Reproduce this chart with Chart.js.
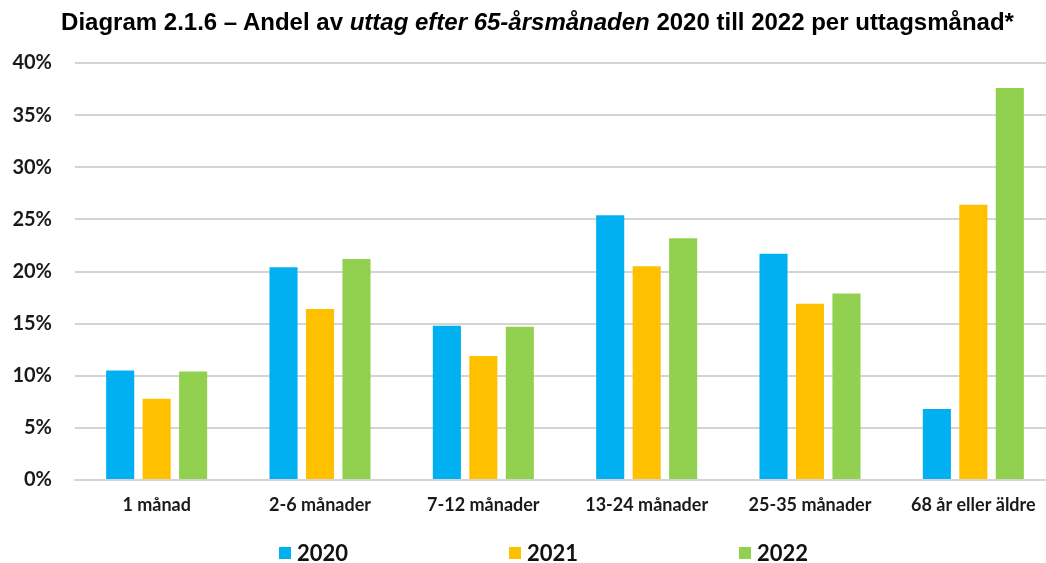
<!DOCTYPE html>
<html><head><meta charset="utf-8">
<script src="https://cdn.jsdelivr.net/npm/chart.js@4/dist/chart.umd.min.js"></script>
<style>
html,body{margin:0;padding:0;background:#fff;overflow:hidden;}
#wrap{position:relative;width:1046px;height:563px;overflow:hidden;}
#title{position:absolute;left:0;top:8px;width:1075px;line-height:28px;text-align:center;font:bold 24px "Liberation Sans",Arial,sans-serif;color:#000;white-space:nowrap;}
#legend{position:absolute;left:0;top:539px;width:1087px;height:28px;display:flex;justify-content:center;gap:161px;font:bold 22px Lato,"Open Sans",sans-serif;color:#111;line-height:28px;}
.li{display:flex;align-items:center;}
.sw{width:12px;height:12px;margin-right:6px;}
canvas{position:absolute;left:0;top:0;}
</style></head>
<body><div id="wrap">
<canvas id="c" width="1056" height="563"></canvas>
<div id="title">Diagram 2.1.6 – Andel av <i>uttag efter 65-årsmånaden</i> 2020 till 2022 per uttagsmånad*</div>
<div id="legend"></div>
</div>
<script>
const categories = ["1 månad","2-6 månader","7-12 månader","13-24 månader","25-35 månader","68 år eller äldre"];
const seriesNames = ["2020","2021","2022"];
const values2020 = [10.5, 20.4, 14.8, 25.4, 21.7, 6.8];
const values2021 = [7.8, 16.4, 11.9, 20.5, 16.9, 26.4];
const values2022 = [10.4, 21.2, 14.7, 23.2, 17.9, 37.6];
const colors = ["#00B0F0","#FFC000","#92D050"];
const yTicks = [0,5,10,15,20,25,30,35,40];

const allValues = [values2020, values2021, values2022];
const lg = document.getElementById('legend');
seriesNames.forEach((n,i)=>{
  const d=document.createElement('div');d.className='li';
  const s=document.createElement('span');s.className='sw';s.style.background=colors[i];
  const t=document.createElement('span');t.textContent=n;
  d.appendChild(s);d.appendChild(t);lg.appendChild(d);
});

new Chart(document.getElementById('c'), {
  type:'bar',
  data:{
    labels:categories,
    datasets: seriesNames.map((n,i)=>({label:n,data:allValues[i],backgroundColor:colors[i],borderWidth:0,
      categoryPercentage:0.67,barPercentage:0.77}))
  },
  options:{
    responsive:false,animation:false,
    layout:{padding:{top:63,left:0,right:1,bottom:43}},
    plugins:{legend:{display:false},title:{display:false},tooltip:{enabled:false}},
    scales:{
      x:{
        grid:{display:false,drawTicks:false},
        border:{display:true,color:'#D4D4D4',width:2},
        ticks:{padding:14,color:'#1a1a1a',maxRotation:0,autoSkip:false,font:{family:'Lato',weight:'bold',size:18}},
        afterFit(s){s.height=40;}
      },
      y:{
        min:0,max:40,
        afterBuildTicks(s){s.ticks=yTicks.map(v=>({value:v}));},
        grid:{color:'#D4D4D4',lineWidth:2,drawTicks:false},
        border:{display:false},
        ticks:{padding:23,color:'#1a1a1a',font:{family:'Lato',weight:'bold',size:20},callback:v=>v+'%'},
        afterFit(s){s.width=75;}
      }
    }
  }
});
</script>
</body></html>
